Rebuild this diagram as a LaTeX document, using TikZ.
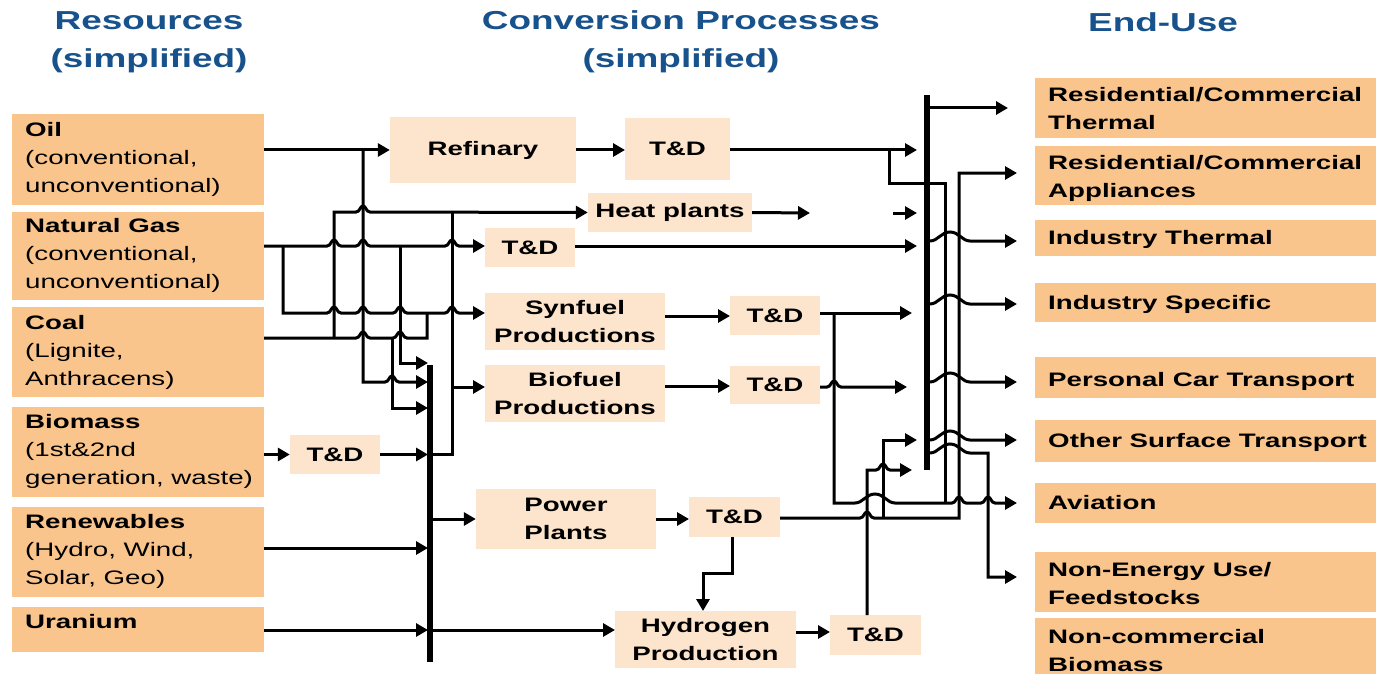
\documentclass[tikz,border=0pt]{standalone}
\usepackage{fontspec}
\newfontfamily\wf{Liberation Sans}[FakeStretch=1.42]
\usetikzlibrary{arrows.meta}
\definecolor{hdr}{RGB}{24,82,140}
\definecolor{org}{RGB}{249,197,141}
\definecolor{pch}{RGB}{252,228,205}
\begin{document}
\begin{tikzpicture}[x=1pt,y=-1pt,
  ln/.style={line width=3pt, black},
  ar/.style={ln, -{Triangle[length=12pt,width=13pt]}},
  bus/.style={line width=6.5pt, black},
  hp/.style={insert path={.. controls +(4,0) and +(-3,0) .. ++(7,-6) .. controls +(3,0) and +(-4,0) .. ++(7,6)}},
  hpw/.style={insert path={.. controls +(8,0) and +(-9,0) .. ++(20,-9) .. controls +(9,0) and +(-8,0) .. ++(20,9)}},
  lbox/.style={fill=org, minimum width=252pt, inner sep=0pt, anchor=north west},
  rbox/.style={fill=org, minimum width=341pt, inner sep=0pt, anchor=north west},
  ltxt/.style={font=\wf\fontsize{19.5}{28}\selectfont, align=left, inner sep=0pt, anchor=west},
  rtxt/.style={font=\wf\bfseries\fontsize{19.5}{28}\selectfont, align=left, inner sep=0pt, anchor=west},
  mbox/.style={fill=pch, font=\wf\bfseries\fontsize{19.5}{28}\selectfont, align=center, inner sep=0pt},
  hd/.style={font=\wf\bfseries\fontsize{26}{38}\selectfont, text=hdr, align=center, inner sep=0pt}]
\useasboundingbox (0,0) rectangle (1376,674);
\fill[white] (0,0) rectangle (1376,674);

% headings
\node[hd] (h1) at (149,42) {Resources\\(simplified)};
\node[hd] (h2) at (681,42) {Conversion Processes\\(simplified)};
\node[hd] (h3) at (1163,22) {End-Use};

% resources
\node[lbox, minimum height=91pt] (oil) at (12,114) {};
\node[lbox, minimum height=88pt] (gas) at (12,212) {};
\node[lbox, minimum height=90pt] (coal) at (12,307) {};
\node[lbox, minimum height=90pt] (bio) at (12,407) {};
\node[lbox, minimum height=90pt] (ren) at (12,507) {};
\node[lbox, minimum height=45pt] (ura) at (12,607) {};
\node[ltxt] (oilt) at (25,159) {\textbf{Oil}\\(conventional,\\unconventional)};
\node[ltxt] (gast) at (25,255) {\textbf{Natural Gas}\\(conventional,\\unconventional)};
\node[ltxt] (coalt) at (25,352) {\textbf{Coal}\\(Lignite,\\Anthracens)};
\node[ltxt] (biot) at (25,451) {\textbf{Biomass}\\(1st\&2nd\\generation, waste)};
\node[ltxt] (rent) at (25,551) {\textbf{Renewables}\\(Hydro, Wind,\\Solar, Geo)};
\node[ltxt] (urat) at (25,622) {\textbf{Uranium}};

% end-use
\node[rbox, minimum height=60pt] (rct) at (1035,78) {};
\node[rbox, minimum height=59pt] (rca) at (1035,146) {};
\node[rbox, minimum height=36pt] (ith) at (1035,220) {};
\node[rbox, minimum height=39pt] (isp) at (1035,283) {};
\node[rbox, minimum height=41pt] (pct) at (1035,357) {};
\node[rbox, minimum height=42pt] (ost) at (1035,420) {};
\node[rbox, minimum height=40pt] (avi) at (1035,483) {};
\node[rbox, minimum height=60pt] (neu) at (1035,552) {};
\node[rbox, minimum height=56pt] (ncb) at (1035,618) {};
\node[rtxt] (rctt) at (1048,109) {Residential/Commercial\\Thermal};
\node[rtxt] (rcat) at (1048,178) {Residential/Commercial\\Appliances};
\node[rtxt] (itht) at (1048,239) {Industry Thermal};
\node[rtxt] (ispt) at (1048,304) {Industry Specific};
\node[rtxt] (pctt) at (1048,381) {Personal Car Transport};
\node[rtxt] (ostt) at (1048,442) {Other Surface Transport};
\node[rtxt] (avit) at (1048,503) {Aviation};
\node[rtxt] (neut) at (1048,584) {Non-Energy Use/\\Feedstocks};
\node[rtxt] (ncbt) at (1048,651) {Non-commercial\\Biomass};

% conversion boxes
\node[mbox, minimum width=186pt, minimum height=66pt] (ref) at (483,150) {Refinary};
\node[mbox, minimum width=105pt, minimum height=62pt] (tdr) at (677.5,149) {T\&D};
\node[mbox, minimum width=164pt, minimum height=39pt] (heat) at (670,212.5) {Heat plants};
\node[mbox, minimum width=90pt, minimum height=39pt] (tdg) at (530,247.5) {T\&D};
\node[mbox, minimum width=180pt, minimum height=57pt] (syn) at (575,321.5) {Synfuel\\Productions};
\node[mbox, minimum width=90pt, minimum height=39pt] (tds) at (775,315.5) {T\&D};
\node[mbox, minimum width=180pt, minimum height=57pt] (biof) at (575,393.5) {Biofuel\\Productions};
\node[mbox, minimum width=90pt, minimum height=38pt] (tdb) at (775,385) {T\&D};
\node[mbox, minimum width=90pt, minimum height=39pt] (tdm) at (335,454.5) {T\&D};
\node[mbox, minimum width=180pt, minimum height=60pt] (pow) at (566,519) {Power\\Plants};
\node[mbox, minimum width=91pt, minimum height=40pt] (tdp) at (734.5,517) {T\&D};
\node[mbox, minimum width=181pt, minimum height=57pt] (hyd) at (705.5,639.5) {Hydrogen\\Production};
\node[mbox, minimum width=91pt, minimum height=40pt] (tdh) at (875.5,635) {T\&D};

% ---------- left wiring ----------
\draw[ar] (264,150) -- (ref.west);
\draw[ar] (363,150) -- (363,382) -- (385,382) [hp] -- (428,382);
\draw[ar] (334,338) -- (334,212) -- (356,212) [hp] -- (heat.west);
\draw[ar] (264,246) -- (327,246) [hp] -- (356,246) [hp] -- (445,246) [hp] -- (485,246);
\draw[ar] (283,246) -- (283,313) -- (327,313) [hp] -- (356,313) [hp] -- (393,313) [hp] -- (445,313) [hp] -- (485,313);
\draw[ar] (400,246) -- (400,363) -- (428,363);
\draw[ln] (264,338) -- (356,338) [hp] -- (393,338) [hp] -- (427,338) -- (427,313);
\draw[ar] (392,338) -- (392,408) -- (428,408);
\draw[ar] (264,454.5) -- (tdm.west);
\draw[ar] (tdm.east) -- (428,454.5);
\draw[ln] (433,454.5) -- (452,454.5) -- (452,212);
\draw[ar] (452,387) -- (485,387);
\draw[ar] (264,548) -- (428,548);
\draw[ar] (264,630) -- (428,630);
\draw[bus] (430,365) -- (430,662);
\draw[ar] (433,519) -- (pow.west);
\draw[ar] (433,630) -- (615,630);

% ---------- middle chain ----------
\draw[ar] (ref.east) -- (625,150);
\draw[ar] (665,316) -- (730,316);
\draw[ar] (665,386) -- (730,386);
\draw[ar] (pow.east) -- (689,519);
\draw[ar] (732,537) -- (732,573) -- (703,573) -- (703,611);
\draw[ar] (796,632) -- (830,632);

% ---------- right wiring ----------
\draw[bus] (927,95) -- (927,470);
\draw[ar] (930,108) -- (1008,108);
\draw[ar] (730,150) -- (917,150);
\draw[ln] (889,150) -- (889,183) -- (945,183) -- (945,503);
\draw[ar] (heat.east) -- (810,213);
\draw[ar] (893,213) -- (917,213);
\draw[ar] (575,246) -- (917,246);
\draw[ar] (930,241) [hpw] -- (1017,241);
\draw[ar] (930,304) [hpw] -- (1017,304);
\draw[ar] (930,382) [hpw] -- (1017,382);
\draw[ar] (930,440) [hpw] -- (1017,440);
\draw[ar] (930,453) [hpw] -- (988,453) -- (988,577) -- (1017,577);
\draw[ar] (820,313) -- (912,313);
\draw[ar] (834,313) -- (834,503) -- (855,503) [hpw] -- (952,503) [hp] -- (981,503) [hp] -- (1017,503);
\draw[ar] (820,387) -- (827,387) [hp] -- (907,387);
\draw[ar] (780,518) -- (860,518) [hp] -- (959,518) -- (959,173) -- (1017,173);
\draw[ar] (883,518) -- (883,440) -- (917,440);
\draw[ar] (867,615) -- (867,470) -- (876,470) [hp] -- (912,470);
\end{tikzpicture}
\end{document}
